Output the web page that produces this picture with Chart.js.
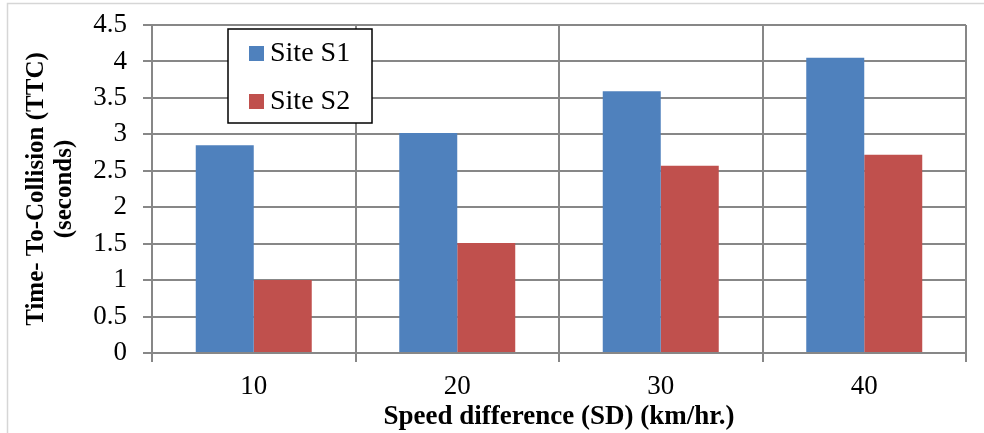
<!DOCTYPE html>
<html>
<head>
<meta charset="utf-8">
<script src="https://cdn.jsdelivr.net/npm/chart.js@4.4.0/dist/chart.umd.min.js"></script>
<style>
  html, body { margin: 0; padding: 0; background: #fff; }
  #wrap { position: relative; width: 984px; height: 433px; }
</style>
</head>
<body>
<div id="wrap"><canvas id="myChart" width="984" height="433"></canvas></div>
<script>
// data
var speedDiff = ['10', '20', '30', '40'];
var siteS1 = [2.85, 3.02, 3.59, 4.05];
var siteS2 = [1.0, 1.51, 2.57, 2.72];
var yTicks = [0, 0.5, 1, 1.5, 2, 2.5, 3, 3.5, 4, 4.5];

var serif = '"Liberation Serif", "Times New Roman", serif';
var gridGray = '#878787';

// light frame round the whole figure
var framePlugin = {
    id: 'frame',
    beforeDraw: function(chart) {
        var c = chart.ctx;
        c.save();
        c.fillStyle = '#fff';
        c.fillRect(0, 0, chart.width, chart.height);
        c.strokeStyle = '#d6d6d6';
        c.lineWidth = 1.5;
        c.beginPath();
        c.moveTo(7.5, chart.height);
        c.lineTo(7.5, 3.5);
        c.lineTo(chart.width, 3.5);
        c.stroke();
        c.restore();
    }
};

// legend box sitting inside the plot, like the original
var boxLegend = {
    id: 'boxLegend',
    afterDraw: function(chart) {
        var c = chart.ctx, a = chart.chartArea;
        var x = a.left + 76, y = a.top + 4, w = 144, h = 94;
        c.save();
        c.fillStyle = '#fff';
        c.fillRect(x, y, w, h);
        c.strokeStyle = '#000';
        c.lineWidth = 1.5;
        c.strokeRect(x, y, w, h);
        c.font = '28px ' + serif;
        c.textBaseline = 'middle';
        chart.data.datasets.forEach(function(ds, i) {
            var cy = y + 24 + i * 48;
            c.fillStyle = ds.backgroundColor;
            c.fillRect(x + 21, cy - 7, 15, 15);
            c.fillStyle = '#000';
            c.fillText(ds.label, x + 42, cy + 1);
        });
        c.restore();
    }
};

var ctx = document.getElementById('myChart').getContext('2d');
var chart = new Chart(ctx, {
    type: 'bar',
    data: {
        labels: speedDiff,
        datasets: [{
            label: 'Site S1',
            backgroundColor: '#4F81BD',
            data: siteS1
        }, {
            label: 'Site S2',
            backgroundColor: '#C0504D',
            data: siteS2
        }]
    },
    options: {
        responsive: false,
        animation: false,
        devicePixelRatio: 1,
        layout: { padding: { left: 0, top: 25, right: 18, bottom: 0 } },
        datasets: {
            bar: { categoryPercentage: 0.57, barPercentage: 1.0 }
        },
        plugins: {
            legend: { display: false },
            tooltip: { enabled: false }
        },
        scales: {
            x: {
                grid: { color: gridGray, lineWidth: 2, offset: true, tickLength: 9 },
                border: { color: gridGray, width: 2 },
                ticks: { color: '#000', font: { family: serif, size: 27 }, padding: 9 },
                title: {
                    display: true,
                    text: 'Speed difference (SD) (km/hr.)',
                    color: '#000',
                    font: { family: serif, size: 27, weight: 'bold' },
                    padding: { top: 0, bottom: 0 }
                },
                afterFit: function(s) { s.height = 80; }
            },
            y: {
                min: 0,
                max: 4.5,
                afterBuildTicks: function(s) {
                    s.ticks = yTicks.map(function(v) { return { value: v }; });
                },
                grid: { color: gridGray, lineWidth: 2, tickLength: 9 },
                border: { color: gridGray, width: 2 },
                ticks: {
                    color: '#000',
                    font: { family: serif, size: 27 },
                    padding: 16,
                    callback: function(v) { return String(v); }
                },
                title: {
                    display: true,
                    text: ['Time- To-Collision (TTC)', '(seconds)'],
                    color: '#000',
                    font: { family: serif, size: 25, weight: 'bold', lineHeight: 1.12 },
                    padding: { top: 23, bottom: 0 }
                },
                afterFit: function(s) {
                    s.width = 152;
                    s.paddingTop = 0;
                    s.paddingBottom = 0;
                }
            }
        }
    },
    plugins: [framePlugin, boxLegend]
});
</script>
</body>
</html>
